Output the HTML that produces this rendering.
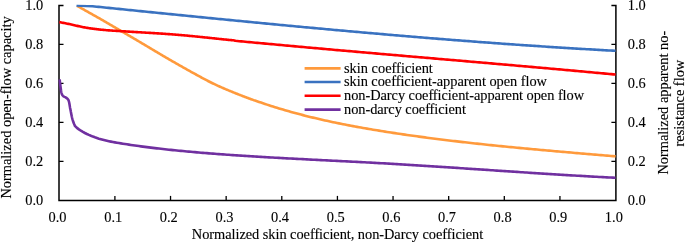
<!DOCTYPE html>
<html><head><meta charset="utf-8"><style>
html,body{margin:0;padding:0;background:#fff;}
svg{display:block;}
text{font-family:'Liberation Serif','Times New Roman',serif;font-size:14.4px;fill:#000;stroke:#000;stroke-width:0.12px;}
</style></head><body>
<svg width="685" height="242" viewBox="0 0 685 242">
<path d="M63.5,5.5 H59.0 V200.4 H615.9 V5.5 H611.4" fill="none" stroke="#000" stroke-width="1.5"/>
<path d="M114.90,200.4 V195.9" stroke="#000" stroke-width="1.3"/>
<path d="M170.53,200.4 V195.9" stroke="#000" stroke-width="1.3"/>
<path d="M226.16,200.4 V195.9" stroke="#000" stroke-width="1.3"/>
<path d="M281.79,200.4 V195.9" stroke="#000" stroke-width="1.3"/>
<path d="M337.42,200.4 V195.9" stroke="#000" stroke-width="1.3"/>
<path d="M393.05,200.4 V195.9" stroke="#000" stroke-width="1.3"/>
<path d="M448.68,200.4 V195.9" stroke="#000" stroke-width="1.3"/>
<path d="M504.31,200.4 V195.9" stroke="#000" stroke-width="1.3"/>
<path d="M559.94,200.4 V195.9" stroke="#000" stroke-width="1.3"/>
<path d="M59.0,161.32 h4.5 M615.9,161.32 h-4.5" stroke="#000" stroke-width="1.3"/>
<path d="M59.0,122.34 h4.5 M615.9,122.34 h-4.5" stroke="#000" stroke-width="1.3"/>
<path d="M59.0,83.36 h4.5 M615.9,83.36 h-4.5" stroke="#000" stroke-width="1.3"/>
<path d="M59.0,44.38 h4.5 M615.9,44.38 h-4.5" stroke="#000" stroke-width="1.3"/>
<defs><clipPath id="pa"><rect x="57" y="4.8" width="562" height="197"/></clipPath></defs>
<g fill="none" stroke-width="2.6" stroke-linejoin="round" stroke-linecap="butt" clip-path="url(#pa)">
<path d="M59.70,79.30 L59.74,79.80 L59.78,80.30 L59.82,80.80 L59.87,81.30 L59.92,81.79 L59.97,82.29 L60.02,82.79 L60.08,83.29 L60.13,83.78 L60.19,84.28 L60.25,84.78 L60.32,85.27 L60.38,85.77 L60.44,86.26 L60.51,86.76 L60.58,87.25 L60.65,87.75 L60.71,88.25 L60.78,88.76 L60.85,89.27 L60.92,89.78 L60.99,90.29 L61.07,90.79 L61.15,91.30 L61.24,91.79 L61.34,92.28 L61.45,92.76 L61.57,93.23 L61.70,93.68 L61.85,94.12 L62.05,94.57 L62.32,95.01 L62.64,95.43 L62.99,95.82 L63.34,96.17 L63.71,96.46 L64.14,96.70 L64.60,96.91 L65.08,97.11 L65.54,97.33 L65.97,97.58 L66.38,97.87 L66.79,98.19 L67.20,98.53 L67.59,98.89 L67.93,99.27 L68.22,99.66 L68.42,100.06 L68.59,100.47 L68.74,100.90 L68.87,101.35 L69.00,101.81 L69.11,102.29 L69.22,102.78 L69.32,103.27 L69.41,103.78 L69.49,104.29 L69.58,104.80 L69.66,105.32 L69.74,105.84 L69.82,106.36 L69.90,106.87 L69.99,107.38 L70.08,107.89 L70.18,108.38 L70.28,108.87 L70.38,109.36 L70.48,109.86 L70.57,110.35 L70.67,110.84 L70.76,111.33 L70.85,111.83 L70.95,112.32 L71.04,112.81 L71.13,113.30 L71.23,113.80 L71.33,114.29 L71.42,114.78 L71.52,115.27 L71.63,115.76 L71.73,116.25 L71.84,116.73 L71.95,117.22 L72.07,117.70 L72.19,118.19 L72.31,118.67 L72.44,119.15 L72.58,119.62 L72.72,120.10 L72.87,120.57 L73.03,121.05 L73.19,121.52 L73.36,121.99 L73.53,122.46 L73.71,122.93 L73.90,123.40 L74.08,123.86 L74.27,124.33 L74.47,124.79 L74.66,125.25 L74.86,125.72 L74.90,125.80 L76.90,127.89 L78.90,129.38 L80.90,130.72 L82.90,131.92 L84.90,133.01 L86.90,134.01 L88.90,134.93 L90.90,135.79 L92.90,136.59 L94.90,137.33 L96.90,138.01 L98.90,138.65 L100.90,139.24 L102.90,139.79 L104.90,140.30 L106.90,140.78 L108.90,141.22 L110.90,141.63 L112.90,142.02 L114.90,142.39 L116.90,142.74 L118.90,143.07 L120.90,143.40 L122.90,143.72 L124.90,144.03 L126.90,144.33 L128.90,144.64 L130.90,144.93 L132.90,145.22 L134.90,145.51 L136.90,145.79 L138.90,146.07 L140.90,146.34 L142.90,146.60 L144.90,146.87 L146.90,147.12 L148.90,147.38 L150.90,147.63 L152.90,147.87 L154.90,148.11 L156.90,148.35 L158.90,148.58 L160.90,148.81 L162.90,149.03 L164.90,149.25 L166.90,149.47 L168.90,149.68 L170.90,149.89 L172.90,150.10 L174.90,150.30 L176.90,150.50 L178.90,150.70 L180.90,150.89 L182.90,151.08 L184.90,151.27 L186.90,151.46 L188.90,151.64 L190.90,151.82 L192.90,152.00 L194.90,152.17 L196.90,152.34 L198.90,152.51 L200.90,152.68 L202.90,152.85 L204.90,153.01 L206.90,153.17 L208.90,153.33 L210.90,153.49 L212.90,153.64 L214.90,153.80 L216.90,153.95 L218.90,154.10 L220.90,154.25 L222.90,154.39 L224.90,154.54 L226.90,154.68 L228.90,154.82 L230.90,154.96 L232.90,155.10 L234.90,155.23 L236.90,155.37 L238.90,155.50 L240.90,155.63 L242.90,155.76 L244.90,155.89 L246.90,156.02 L248.90,156.15 L250.90,156.27 L252.90,156.40 L254.90,156.52 L256.90,156.64 L258.90,156.76 L260.90,156.88 L262.90,157.00 L264.90,157.11 L266.90,157.23 L268.90,157.34 L270.90,157.46 L272.90,157.57 L274.90,157.68 L276.90,157.79 L278.90,157.90 L280.90,158.01 L282.90,158.12 L284.90,158.23 L286.90,158.33 L288.90,158.44 L290.90,158.55 L292.90,158.65 L294.90,158.76 L296.90,158.86 L298.90,158.96 L300.90,159.07 L302.90,159.17 L304.90,159.27 L306.90,159.37 L308.90,159.48 L310.90,159.58 L312.90,159.68 L314.90,159.78 L316.90,159.88 L318.90,159.98 L320.90,160.08 L322.90,160.18 L324.90,160.28 L326.90,160.38 L328.90,160.48 L330.90,160.58 L332.90,160.68 L334.90,160.78 L336.90,160.88 L338.90,160.98 L340.90,161.08 L342.90,161.19 L344.90,161.29 L346.90,161.39 L348.90,161.49 L350.90,161.59 L352.90,161.70 L354.90,161.80 L356.90,161.90 L358.90,162.01 L360.90,162.11 L362.90,162.22 L364.90,162.32 L366.90,162.43 L368.90,162.54 L370.90,162.64 L372.90,162.75 L374.90,162.86 L376.90,162.97 L378.90,163.08 L380.90,163.20 L382.90,163.31 L384.90,163.42 L386.90,163.54 L388.90,163.65 L390.90,163.77 L392.90,163.88 L394.90,164.00 L396.90,164.12 L398.90,164.24 L400.90,164.36 L402.90,164.48 L404.90,164.60 L406.90,164.72 L408.90,164.84 L410.90,164.97 L412.90,165.09 L414.90,165.21 L416.90,165.34 L418.90,165.46 L420.90,165.59 L422.90,165.71 L424.90,165.84 L426.90,165.97 L428.90,166.09 L430.90,166.22 L432.90,166.35 L434.90,166.48 L436.90,166.61 L438.90,166.74 L440.90,166.87 L442.90,167.00 L444.90,167.13 L446.90,167.26 L448.90,167.39 L450.90,167.52 L452.90,167.65 L454.90,167.79 L456.90,167.92 L458.90,168.05 L460.90,168.18 L462.90,168.32 L464.90,168.45 L466.90,168.58 L468.90,168.72 L470.90,168.85 L472.90,168.98 L474.90,169.12 L476.90,169.25 L478.90,169.38 L480.90,169.52 L482.90,169.65 L484.90,169.79 L486.90,169.92 L488.90,170.05 L490.90,170.19 L492.90,170.32 L494.90,170.46 L496.90,170.59 L498.90,170.72 L500.90,170.86 L502.90,170.99 L504.90,171.12 L506.90,171.26 L508.90,171.39 L510.90,171.52 L512.90,171.65 L514.90,171.79 L516.90,171.92 L518.90,172.05 L520.90,172.18 L522.90,172.31 L524.90,172.44 L526.90,172.57 L528.90,172.70 L530.90,172.83 L532.90,172.96 L534.90,173.09 L536.90,173.22 L538.90,173.35 L540.90,173.48 L542.90,173.61 L544.90,173.73 L546.90,173.86 L548.90,173.99 L550.90,174.11 L552.90,174.24 L554.90,174.36 L556.90,174.48 L558.90,174.61 L560.90,174.73 L562.90,174.85 L564.90,174.97 L566.90,175.10 L568.90,175.22 L570.90,175.34 L572.90,175.46 L574.90,175.57 L576.90,175.69 L578.90,175.81 L580.90,175.92 L582.90,176.04 L584.90,176.15 L586.90,176.27 L588.90,176.38 L590.90,176.49 L592.90,176.60 L594.90,176.71 L596.90,176.82 L598.90,176.93 L600.90,177.04 L602.90,177.15 L604.90,177.25 L606.90,177.36 L608.90,177.46 L610.90,177.57 L612.90,177.67 L614.90,177.77 L615.60,177.80" stroke="#7030a0"/>
<path d="M77.00,5.80 L78.00,6.36 L79.00,6.91 L80.00,7.47 L81.00,8.03 L82.00,8.59 L83.00,9.14 L84.00,9.70 L85.00,10.27 L86.00,10.83 L87.00,11.39 L88.00,11.95 L89.00,12.51 L90.00,13.08 L91.00,13.64 L92.00,14.20 L93.00,14.77 L94.00,15.33 L95.00,15.90 L96.00,16.47 L97.00,17.03 L98.00,17.60 L99.00,18.17 L100.00,18.74 L101.00,19.31 L102.00,19.88 L103.00,20.45 L104.00,21.02 L105.00,21.60 L106.00,22.18 L107.00,22.76 L108.00,23.34 L109.00,23.93 L110.00,24.51 L111.00,25.10 L112.00,25.69 L113.00,26.28 L114.00,26.87 L115.00,27.46 L116.00,28.05 L117.00,28.64 L118.00,29.23 L119.00,29.81 L120.00,30.40 L121.00,30.99 L122.00,31.57 L123.00,32.15 L124.00,32.74 L125.00,33.32 L126.00,33.90 L127.00,34.48 L128.00,35.07 L129.00,35.65 L130.00,36.23 L131.00,36.81 L132.00,37.40 L133.00,37.98 L134.00,38.57 L135.00,39.15 L136.00,39.74 L137.00,40.32 L138.00,40.91 L139.00,41.50 L140.00,42.09 L141.00,42.68 L142.00,43.28 L143.00,43.87 L144.00,44.47 L145.00,45.06 L146.00,45.66 L147.00,46.26 L148.00,46.86 L149.00,47.46 L150.00,48.05 L151.00,48.65 L152.00,49.25 L153.00,49.85 L154.00,50.45 L155.00,51.04 L156.00,51.64 L157.00,52.23 L158.00,52.82 L159.00,53.41 L160.00,54.00 L161.00,54.59 L162.00,55.17 L163.00,55.76 L164.00,56.35 L165.00,56.93 L166.00,57.52 L167.00,58.10 L168.00,58.69 L169.00,59.27 L170.00,59.85 L171.00,60.43 L172.00,61.01 L173.00,61.59 L174.00,62.17 L175.00,62.74 L176.00,63.32 L177.00,63.89 L178.00,64.46 L179.00,65.03 L180.00,65.60 L181.00,66.17 L182.00,66.73 L183.00,67.30 L184.00,67.86 L185.00,68.42 L186.00,68.98 L187.00,69.54 L188.00,70.09 L189.00,70.65 L190.00,71.20 L191.00,71.76 L192.00,72.31 L193.00,72.86 L194.00,73.41 L195.00,73.95 L196.00,74.50 L197.00,75.05 L198.00,75.60 L199.00,76.14 L200.00,76.69 L201.00,77.24 L202.00,77.79 L203.00,78.33 L204.00,78.87 L205.00,79.41 L206.00,79.94 L207.00,80.47 L208.00,80.99 L209.00,81.50 L210.00,82.00 L211.00,82.50 L212.00,82.98 L213.00,83.47 L214.00,83.95 L215.00,84.42 L216.00,84.89 L217.00,85.35 L218.00,85.81 L219.00,86.26 L220.00,86.71 L221.00,87.16 L222.00,87.60 L223.00,88.04 L224.00,88.47 L225.00,88.90 L226.00,89.33 L227.00,89.75 L228.00,90.17 L229.00,90.58 L230.00,91.00 L231.00,91.41 L232.00,91.82 L233.00,92.22 L234.00,92.62 L235.00,93.03 L236.00,93.42 L237.00,93.82 L238.00,94.22 L239.00,94.61 L240.00,95.00 L241.00,95.39 L242.00,95.78 L243.00,96.16 L244.00,96.54 L245.00,96.92 L246.00,97.30 L247.00,97.68 L248.00,98.05 L249.00,98.42 L250.00,98.79 L251.00,99.16 L252.00,99.52 L253.00,99.88 L254.00,100.24 L255.00,100.50 L257.00,101.21 L259.00,101.90 L261.00,102.59 L263.00,103.27 L265.00,103.94 L267.00,104.61 L269.00,105.26 L271.00,105.90 L273.00,106.54 L275.00,107.17 L277.00,107.79 L279.00,108.40 L281.00,109.00 L283.00,109.59 L285.00,110.18 L287.00,110.76 L289.00,111.33 L291.00,111.90 L293.00,112.45 L295.00,113.00 L297.00,113.54 L299.00,114.08 L301.00,114.60 L303.00,115.12 L305.00,115.64 L307.00,116.14 L309.00,116.64 L311.00,117.14 L313.00,117.62 L315.00,118.10 L317.00,118.58 L319.00,119.04 L321.00,119.50 L323.00,119.96 L325.00,120.41 L327.00,120.85 L329.00,121.29 L331.00,121.72 L333.00,122.15 L335.00,122.57 L337.00,122.98 L339.00,123.39 L341.00,123.80 L343.00,124.20 L345.00,124.60 L347.00,124.99 L349.00,125.37 L351.00,125.75 L353.00,126.13 L355.00,126.50 L357.00,126.87 L359.00,127.23 L361.00,127.59 L363.00,127.95 L365.00,128.30 L367.00,128.64 L369.00,128.99 L371.00,129.33 L373.00,129.66 L375.00,130.00 L377.00,130.32 L379.00,130.65 L381.00,130.97 L383.00,131.29 L385.00,131.61 L387.00,131.92 L389.00,132.23 L391.00,132.54 L393.00,132.85 L395.00,133.15 L397.00,133.45 L399.00,133.75 L401.00,134.05 L403.00,134.34 L405.00,134.63 L407.00,134.92 L409.00,135.20 L411.00,135.49 L413.00,135.77 L415.00,136.05 L417.00,136.32 L419.00,136.60 L421.00,136.87 L423.00,137.14 L425.00,137.40 L427.00,137.67 L429.00,137.93 L431.00,138.19 L433.00,138.45 L435.00,138.71 L437.00,138.96 L439.00,139.21 L441.00,139.46 L443.00,139.71 L445.00,139.96 L447.00,140.20 L449.00,140.44 L451.00,140.68 L453.00,140.92 L455.00,141.16 L457.00,141.39 L459.00,141.63 L461.00,141.86 L463.00,142.09 L465.00,142.32 L467.00,142.54 L469.00,142.77 L471.00,142.99 L473.00,143.21 L475.00,143.43 L477.00,143.65 L479.00,143.86 L481.00,144.08 L483.00,144.29 L485.00,144.50 L487.00,144.71 L489.00,144.92 L491.00,145.13 L493.00,145.34 L495.00,145.54 L497.00,145.75 L499.00,145.95 L501.00,146.15 L503.00,146.35 L505.00,146.55 L507.00,146.74 L509.00,146.94 L511.00,147.14 L513.00,147.33 L515.00,147.52 L517.00,147.71 L519.00,147.90 L521.00,148.09 L523.00,148.28 L525.00,148.47 L527.00,148.66 L529.00,148.84 L531.00,149.03 L533.00,149.21 L535.00,149.39 L537.00,149.58 L539.00,149.76 L541.00,149.94 L543.00,150.12 L545.00,150.30 L547.00,150.48 L549.00,150.65 L551.00,150.83 L553.00,151.01 L555.00,151.18 L557.00,151.36 L559.00,151.53 L561.00,151.71 L563.00,151.88 L565.00,152.06 L567.00,152.23 L569.00,152.40 L571.00,152.57 L573.00,152.74 L575.00,152.92 L577.00,153.09 L579.00,153.26 L581.00,153.43 L583.00,153.60 L585.00,153.77 L587.00,153.94 L589.00,154.11 L591.00,154.28 L593.00,154.44 L595.00,154.61 L597.00,154.78 L599.00,154.95 L601.00,155.12 L603.00,155.29 L605.00,155.46 L607.00,155.63 L609.00,155.80 L611.00,155.97 L613.00,156.14 L615.00,156.30 L615.60,156.36" stroke="#ff9a3c"/>
<path d="M59.30,22.10 L60.30,22.29 L61.30,22.49 L62.30,22.68 L63.30,22.88 L64.30,23.08 L65.30,23.28 L66.30,23.48 L67.30,23.68 L68.30,23.89 L69.30,24.10 L70.30,24.31 L71.30,24.52 L72.30,24.73 L73.30,24.95 L74.30,25.18 L75.30,25.41 L76.30,25.65 L77.30,25.88 L78.30,26.12 L79.30,26.35 L80.30,26.57 L81.30,26.79 L82.30,26.99 L83.30,27.18 L84.30,27.36 L85.30,27.54 L86.30,27.71 L87.30,27.88 L88.30,28.04 L89.30,28.20 L90.30,28.35 L91.30,28.50 L92.30,28.64 L93.30,28.78 L94.30,28.91 L95.30,29.04 L96.30,29.16 L97.30,29.27 L98.30,29.39 L99.30,29.50 L100.30,29.60 L101.30,29.71 L102.30,29.81 L103.30,29.90 L104.30,29.99 L105.30,30.08 L106.30,30.17 L107.30,30.25 L108.30,30.33 L109.30,30.40 L110.30,30.47 L111.30,30.54 L112.30,30.61 L113.30,30.68 L114.30,30.74 L115.30,30.80 L116.30,30.87 L117.30,30.93 L118.30,30.99 L119.30,31.06 L120.30,31.12 L121.30,31.18 L122.30,31.24 L123.30,31.30 L124.30,31.36 L125.30,31.42 L126.30,31.48 L127.30,31.53 L128.30,31.59 L129.30,31.65 L130.30,31.71 L131.30,31.77 L132.30,31.83 L133.30,31.89 L134.30,31.95 L135.30,32.02 L136.30,32.08 L137.30,32.14 L138.30,32.20 L139.30,32.26 L140.30,32.32 L141.30,32.38 L142.30,32.44 L143.30,32.50 L144.30,32.56 L145.30,32.62 L146.30,32.68 L147.30,32.74 L148.30,32.80 L149.30,32.86 L150.30,32.92 L151.30,32.98 L152.30,33.04 L153.30,33.10 L154.30,33.16 L155.30,33.22 L156.30,33.29 L157.30,33.35 L158.30,33.41 L159.30,33.47 L160.30,33.54 L161.30,33.60 L162.30,33.67 L163.30,33.73 L164.30,33.80 L165.30,33.87 L166.30,33.94 L167.30,34.01 L168.30,34.08 L169.30,34.16 L170.30,34.23 L171.30,34.31 L172.30,34.38 L173.30,34.46 L174.30,34.54 L175.30,34.62 L176.30,34.70 L177.30,34.78 L178.30,34.86 L179.30,34.94 L180.30,35.03 L181.30,35.11 L182.30,35.20 L183.30,35.29 L184.30,35.38 L185.30,35.47 L186.30,35.56 L187.30,35.65 L188.30,35.75 L189.30,35.84 L190.30,35.94 L191.30,36.04 L192.30,36.14 L193.30,36.23 L194.30,36.33 L195.30,36.43 L196.30,36.53 L197.30,36.63 L198.30,36.73 L199.30,36.83 L200.30,36.93 L201.30,37.03 L202.30,37.13 L203.30,37.24 L204.30,37.34 L205.30,37.44 L206.30,37.55 L207.30,37.66 L208.30,37.76 L209.30,37.87 L210.30,37.98 L211.30,38.08 L212.30,38.19 L213.30,38.30 L214.30,38.40 L215.30,38.51 L216.30,38.62 L217.30,38.72 L218.30,38.82 L219.30,38.93 L220.30,39.03 L221.30,39.13 L222.30,39.23 L223.30,39.34 L224.30,39.44 L225.30,39.54 L226.30,39.64 L227.30,39.74 L228.30,39.84 L229.30,39.94 L230.30,40.04 L231.30,40.14 L232.30,40.23 L233.30,40.33 L234.30,40.43 L235.30,40.82 L237.30,41.00 L239.30,41.19 L241.30,41.37 L243.30,41.56 L245.30,41.74 L247.30,41.93 L249.30,42.11 L251.30,42.30 L253.30,42.48 L255.30,42.67 L257.30,42.85 L259.30,43.04 L261.30,43.22 L263.30,43.41 L265.30,43.59 L267.30,43.78 L269.30,43.96 L271.30,44.14 L273.30,44.33 L275.30,44.51 L277.30,44.70 L279.30,44.88 L281.30,45.06 L283.30,45.24 L285.30,45.43 L287.30,45.61 L289.30,45.79 L291.30,45.97 L293.30,46.16 L295.30,46.34 L297.30,46.52 L299.30,46.70 L301.30,46.88 L303.30,47.06 L305.30,47.24 L307.30,47.42 L309.30,47.60 L311.30,47.78 L313.30,47.96 L315.30,48.14 L317.30,48.32 L319.30,48.50 L321.30,48.67 L323.30,48.85 L325.30,49.03 L327.30,49.21 L329.30,49.38 L331.30,49.56 L333.30,49.74 L335.30,49.92 L337.30,50.09 L339.30,50.27 L341.30,50.44 L343.30,50.62 L345.30,50.80 L347.30,50.97 L349.30,51.15 L351.30,51.32 L353.30,51.50 L355.30,51.67 L357.30,51.85 L359.30,52.02 L361.30,52.20 L363.30,52.37 L365.30,52.55 L367.30,52.72 L369.30,52.89 L371.30,53.07 L373.30,53.24 L375.30,53.41 L377.30,53.59 L379.30,53.76 L381.30,53.93 L383.30,54.11 L385.30,54.28 L387.30,54.45 L389.30,54.63 L391.30,54.80 L393.30,54.97 L395.30,55.14 L397.30,55.32 L399.30,55.49 L401.30,55.66 L403.30,55.83 L405.30,56.01 L407.30,56.18 L409.30,56.35 L411.30,56.52 L413.30,56.69 L415.30,56.87 L417.30,57.04 L419.30,57.21 L421.30,57.38 L423.30,57.55 L425.30,57.73 L427.30,57.90 L429.30,58.07 L431.30,58.24 L433.30,58.41 L435.30,58.59 L437.30,58.76 L439.30,58.93 L441.30,59.10 L443.30,59.27 L445.30,59.44 L447.30,59.62 L449.30,59.79 L451.30,59.96 L453.30,60.13 L455.30,60.30 L457.30,60.48 L459.30,60.65 L461.30,60.82 L463.30,60.99 L465.30,61.16 L467.30,61.34 L469.30,61.51 L471.30,61.68 L473.30,61.85 L475.30,62.03 L477.30,62.20 L479.30,62.37 L481.30,62.54 L483.30,62.72 L485.30,62.89 L487.30,63.06 L489.30,63.24 L491.30,63.41 L493.30,63.58 L495.30,63.76 L497.30,63.93 L499.30,64.10 L501.30,64.28 L503.30,64.45 L505.30,64.63 L507.30,64.80 L509.30,64.98 L511.30,65.15 L513.30,65.33 L515.30,65.50 L517.30,65.68 L519.30,65.85 L521.30,66.03 L523.30,66.20 L525.30,66.38 L527.30,66.55 L529.30,66.73 L531.30,66.91 L533.30,67.08 L535.30,67.26 L537.30,67.44 L539.30,67.61 L541.30,67.79 L543.30,67.97 L545.30,68.15 L547.30,68.32 L549.30,68.50 L551.30,68.68 L553.30,68.86 L555.30,69.04 L557.30,69.22 L559.30,69.40 L561.30,69.58 L563.30,69.76 L565.30,69.94 L567.30,70.12 L569.30,70.30 L571.30,70.48 L573.30,70.66 L575.30,70.84 L577.30,71.02 L579.30,71.20 L581.30,71.39 L583.30,71.57 L585.30,71.75 L587.30,71.94 L589.30,72.12 L591.30,72.30 L593.30,72.49 L595.30,72.67 L597.30,72.86 L599.30,73.04 L601.30,73.23 L603.30,73.41 L605.30,73.60 L607.30,73.78 L609.30,73.97 L611.30,74.16 L613.30,74.35 L615.30,74.53 L615.60,74.56" stroke="#ff0000"/>
<path d="M76.50,5.40 L86.00,6.00 L92.60,6.26 L94.60,6.47 L96.60,6.67 L98.60,6.87 L100.60,7.08 L102.60,7.28 L104.60,7.48 L106.60,7.69 L108.60,7.89 L110.60,8.09 L112.60,8.30 L114.60,8.50 L116.60,8.70 L118.60,8.91 L120.60,9.11 L122.60,9.31 L124.60,9.52 L126.60,9.72 L128.60,9.92 L130.60,10.13 L132.60,10.33 L134.60,10.53 L136.60,10.73 L138.60,10.93 L140.60,11.14 L142.60,11.34 L144.60,11.54 L146.60,11.74 L148.60,11.95 L150.60,12.15 L152.60,12.35 L154.60,12.55 L156.60,12.75 L158.60,12.95 L160.60,13.15 L162.60,13.36 L164.60,13.56 L166.60,13.76 L168.60,13.96 L170.60,14.16 L172.60,14.36 L174.60,14.56 L176.60,14.76 L178.60,14.96 L180.60,15.16 L182.60,15.36 L184.60,15.56 L186.60,15.76 L188.60,15.96 L190.60,16.16 L192.60,16.36 L194.60,16.56 L196.60,16.75 L198.60,16.95 L200.60,17.15 L202.60,17.35 L204.60,17.55 L206.60,17.74 L208.60,17.94 L210.60,18.14 L212.60,18.34 L214.60,18.53 L216.60,18.73 L218.60,18.93 L220.60,19.12 L222.60,19.32 L224.60,19.52 L226.60,19.71 L228.60,19.91 L230.60,20.10 L232.60,20.30 L234.60,20.50 L236.60,20.69 L238.60,20.88 L240.60,21.08 L242.60,21.27 L244.60,21.47 L246.60,21.66 L248.60,21.86 L250.60,22.05 L252.60,22.24 L254.60,22.43 L256.60,22.63 L258.60,22.82 L260.60,23.01 L262.60,23.20 L264.60,23.40 L266.60,23.59 L268.60,23.78 L270.60,23.97 L272.60,24.16 L274.60,24.35 L276.60,24.54 L278.60,24.73 L280.60,24.92 L282.60,25.11 L284.60,25.30 L286.60,25.49 L288.60,25.68 L290.60,25.86 L292.60,26.05 L294.60,26.24 L296.60,26.43 L298.60,26.61 L300.60,26.80 L302.60,26.99 L304.60,27.17 L306.60,27.36 L308.60,27.54 L310.60,27.73 L312.60,27.91 L314.60,28.10 L316.60,28.28 L318.60,28.47 L320.60,28.65 L322.60,28.83 L324.60,29.02 L326.60,29.20 L328.60,29.38 L330.60,29.56 L332.60,29.75 L334.60,29.93 L336.60,30.11 L338.60,30.29 L340.60,30.47 L342.60,30.65 L344.60,30.83 L346.60,31.01 L348.60,31.19 L350.60,31.37 L352.60,31.54 L354.60,31.72 L356.60,31.90 L358.60,32.08 L360.60,32.25 L362.60,32.43 L364.60,32.61 L366.60,32.78 L368.60,32.96 L370.60,33.13 L372.60,33.30 L374.60,33.48 L376.60,33.65 L378.60,33.83 L380.60,34.00 L382.60,34.17 L384.60,34.34 L386.60,34.51 L388.60,34.69 L390.60,34.86 L392.60,35.03 L394.60,35.20 L396.60,35.37 L398.60,35.54 L400.60,35.70 L402.60,35.87 L404.60,36.04 L406.60,36.21 L408.60,36.38 L410.60,36.54 L412.60,36.71 L414.60,36.87 L416.60,37.04 L418.60,37.20 L420.60,37.37 L422.60,37.53 L424.60,37.70 L426.60,37.86 L428.60,38.02 L430.60,38.18 L432.60,38.34 L434.60,38.51 L436.60,38.67 L438.60,38.83 L440.60,38.99 L442.60,39.14 L444.60,39.30 L446.60,39.46 L448.60,39.62 L450.60,39.78 L452.60,39.93 L454.60,40.09 L456.60,40.25 L458.60,40.40 L460.60,40.56 L462.60,40.71 L464.60,40.86 L466.60,41.02 L468.60,41.17 L470.60,41.32 L472.60,41.47 L474.60,41.63 L476.60,41.78 L478.60,41.93 L480.60,42.08 L482.60,42.22 L484.60,42.37 L486.60,42.52 L488.60,42.67 L490.60,42.82 L492.60,42.96 L494.60,43.11 L496.60,43.25 L498.60,43.40 L500.60,43.54 L502.60,43.69 L504.60,43.83 L506.60,43.97 L508.60,44.11 L510.60,44.26 L512.60,44.40 L514.60,44.54 L516.60,44.68 L518.60,44.82 L520.60,44.95 L522.60,45.09 L524.60,45.23 L526.60,45.37 L528.60,45.50 L530.60,45.64 L532.60,45.77 L534.60,45.91 L536.60,46.04 L538.60,46.17 L540.60,46.31 L542.60,46.44 L544.60,46.57 L546.60,46.70 L548.60,46.83 L550.60,46.96 L552.60,47.09 L554.60,47.22 L556.60,47.35 L558.60,47.47 L560.60,47.60 L562.60,47.73 L564.60,47.85 L566.60,47.98 L568.60,48.10 L570.60,48.22 L572.60,48.35 L574.60,48.47 L576.60,48.59 L578.60,48.71 L580.60,48.83 L582.60,48.95 L584.60,49.07 L586.60,49.19 L588.60,49.30 L590.60,49.42 L592.60,49.54 L594.60,49.65 L596.60,49.77 L598.60,49.88 L600.60,49.99 L602.60,50.11 L604.60,50.22 L606.60,50.33 L608.60,50.44 L610.60,50.55 L612.60,50.66 L614.60,50.77 L615.60,50.82" stroke="#3a72c0"/>
</g>
<path d="M304.6,68.4 H340.6" stroke="#ff9a3c" stroke-width="2.6"/>
<text x="344" y="72.80" textLength="88.86" lengthAdjust="spacing">skin coefficient</text>
<path d="M304.6,82.0 H340.6" stroke="#3a72c0" stroke-width="2.6"/>
<text x="344" y="86.40" textLength="203.0" lengthAdjust="spacing">skin coefficient-apparent open flow</text>
<path d="M304.6,95.8 H340.6" stroke="#ff0000" stroke-width="2.6"/>
<text x="344" y="100.20" textLength="240.1" lengthAdjust="spacing">non-Darcy coefficient-apparent open flow</text>
<path d="M304.6,109.6 H340.6" stroke="#7030a0" stroke-width="2.6"/>
<text x="344" y="114.00" textLength="122.0" lengthAdjust="spacing">non-darcy coefficient</text>
<text x="43.2" y="205.10" text-anchor="end">0.0</text>
<text x="627.8" y="205.10">0.0</text>
<text x="43.2" y="166.12" text-anchor="end">0.2</text>
<text x="627.8" y="166.12">0.2</text>
<text x="43.2" y="127.14" text-anchor="end">0.4</text>
<text x="627.8" y="127.14">0.4</text>
<text x="43.2" y="88.16" text-anchor="end">0.6</text>
<text x="627.8" y="88.16">0.6</text>
<text x="43.2" y="49.18" text-anchor="end">0.8</text>
<text x="627.8" y="49.18">0.8</text>
<text x="43.2" y="10.20" text-anchor="end">1.0</text>
<text x="627.8" y="10.20">1.0</text>
<text x="57.57" y="221.8" text-anchor="middle">0.0</text>
<text x="113.20" y="221.8" text-anchor="middle">0.1</text>
<text x="168.83" y="221.8" text-anchor="middle">0.2</text>
<text x="224.46" y="221.8" text-anchor="middle">0.3</text>
<text x="280.09" y="221.8" text-anchor="middle">0.4</text>
<text x="335.72" y="221.8" text-anchor="middle">0.5</text>
<text x="391.35" y="221.8" text-anchor="middle">0.6</text>
<text x="446.98" y="221.8" text-anchor="middle">0.7</text>
<text x="502.61" y="221.8" text-anchor="middle">0.8</text>
<text x="558.24" y="221.8" text-anchor="middle">0.9</text>
<text x="613.87" y="221.8" text-anchor="middle">1.0</text>
<text x="337.5" y="238.6" text-anchor="middle" textLength="291.4" lengthAdjust="spacing">Normalized skin coefficient, non-Darcy coefficient</text>
<text transform="translate(11.2,107.5) rotate(-90)" text-anchor="middle">Normalized open-flow capacity</text>
<text transform="translate(668.1,102.7) rotate(-90)" text-anchor="middle">Normalized apparent no-</text>
<text transform="translate(683.9,103.1) rotate(-90)" text-anchor="middle">resistance flow</text>
</svg>
</body></html>
